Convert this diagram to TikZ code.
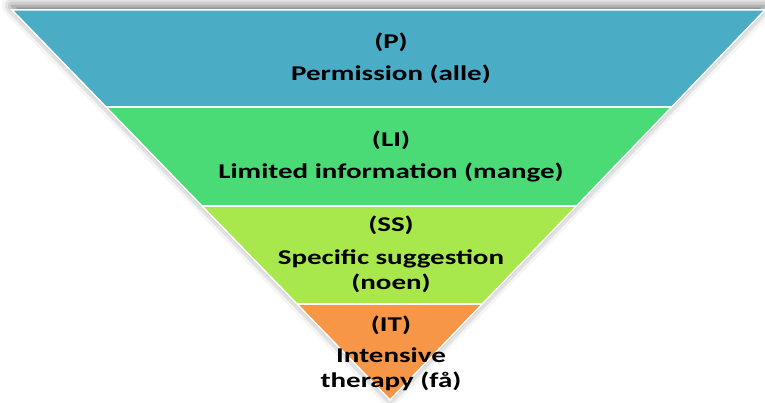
\documentclass[tikz,border=0pt]{standalone}
\usepackage{fontspec}
\setmainfont{Carlito}[FakeStretch=1.38]
\usepackage{tikz}
\usetikzlibrary{shadows.blur}
\definecolor{bandP}{RGB}{75,172,198}
\definecolor{bandLI}{RGB}{74,218,118}
\definecolor{bandSS}{RGB}{168,232,76}
\definecolor{bandIT}{RGB}{247,150,70}
\tikzset{lbl/.style={font=\fontsize{21}{25}\selectfont\bfseries,align=center,inner sep=0pt}}

\begin{document}
\begin{tikzpicture}[x=1pt,y=-1pt]
\useasboundingbox(0,0)rectangle(765,403);
\fill[white,blur shadow={shadow xshift=0pt,shadow yshift=4pt,shadow blur radius=10pt,shadow opacity=60}]
  (12,10)--(765,10)--(390,400)--cycle;
\begin{scope}
\clip(12,10)--(765,10)--(390,400)--cycle;
\fill[bandP](0,10)rectangle(765,107);
\fill[bandLI](0,107)rectangle(765,206);
\fill[bandSS](0,206)rectangle(765,304);
\fill[bandIT](0,304)rectangle(765,403);
\foreach \y in {107,206,304}
\draw[white,line width=2pt](0,\y)--(765,\y);
\end{scope}
\draw[white,line width=1.5pt,line join=miter](12,10)--(765,10)--(390,400)--cycle;
\node[lbl](p) at (391,42){(P)};
\node[lbl](pt) at (391,74){Permission (alle)};
\node[lbl](li) at (391,140){(LI)};
\node[lbl](lit) at (391,172){Limited information (mange)};
\node[lbl](ss) at (391,225){(SS)};
\node[lbl](sst) at (391,271){Specific suggestion\\(noen)};
\node[lbl](it) at (391,325){(IT)};
\node[lbl](itt) at (391,369){Intensive\\therapy (få)};
\end{tikzpicture}
\end{document}
